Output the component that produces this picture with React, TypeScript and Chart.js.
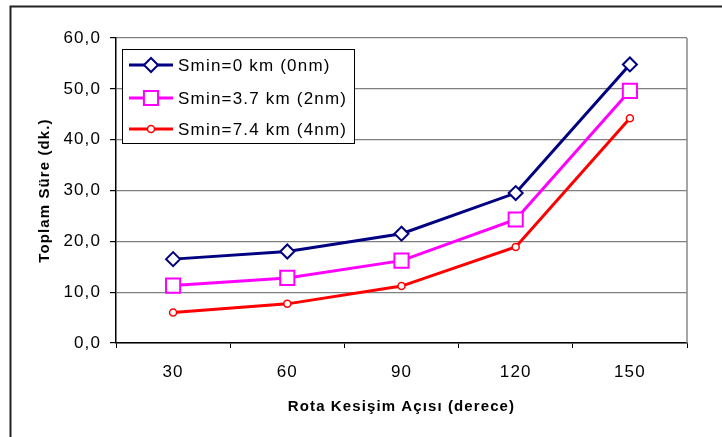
import React, { useEffect, useRef } from "react";
import { Chart, registerables } from "chart.js";

Chart.register(...registerables);

const categories = ["30", "60", "90", "120", "150"];
const seriesNames = ["Smin=0 km (0nm)", "Smin=3.7 km (2nm)", "Smin=7.4 km (4nm)"];
const smin0 = [16.5, 18.0, 21.5, 29.5, 54.8];
const smin37 = [11.3, 12.8, 16.2, 24.3, 49.6];
const smin74 = [6.0, 7.7, 11.2, 18.9, 44.2];
const yTicks = [0, 10, 20, 30, 40, 50, 60];
const xTitle = "Rota Kesişim Açısı (derece)";
const yTitle = "Toplam Süre (dk.)";

const FONT = "'Liberation Sans', Arial, sans-serif";
const SPACING = "1.1px";

const colors = ["#000080", "#FF00FF", "#FF0000"];
const markers = ["rectRot", "rect", "circle"];
const radii = [7, 10, 3.5];
const borderW = [2, 2, 1.5];

function drawMarker(ctx: CanvasRenderingContext2D, type: string, x: number, y: number, r: number) {
  ctx.beginPath();
  if (type === "rectRot") {
    ctx.moveTo(x - r, y);
    ctx.lineTo(x, y - r);
    ctx.lineTo(x + r, y);
    ctx.lineTo(x, y + r);
    ctx.closePath();
  } else if (type === "rect") {
    const s = Math.SQRT1_2 * r;
    ctx.rect(x - s, y - s, 2 * s, 2 * s);
  } else {
    ctx.arc(x, y, r, 0, Math.PI * 2);
  }
  ctx.fill();
  ctx.stroke();
}

function setSpacing(chart: any) {
  try {
    (chart.ctx as any).letterSpacing = SPACING;
  } catch (e) {}
}

const framePlugin = {
  id: "frame",
  beforeInit(chart: any) { setSpacing(chart); },
  beforeUpdate(chart: any) { setSpacing(chart); },
  beforeLayout(chart: any) { setSpacing(chart); },
  beforeDraw(chart: any) {
    const ctx = chart.ctx as CanvasRenderingContext2D;
    setSpacing(chart);
    ctx.save();
    ctx.fillStyle = "#fff";
    ctx.fillRect(0, 0, chart.width, chart.height);
    ctx.strokeStyle = "#222";
    ctx.lineWidth = 2;
    ctx.beginPath();
    ctx.moveTo(10.5, chart.height + 5);
    ctx.lineTo(10.5, 6.5);
    ctx.lineTo(chart.width + 5, 6.5);
    ctx.stroke();
    ctx.restore();
  },
  beforeDatasetsDraw(chart: any) {
    const ctx = chart.ctx as CanvasRenderingContext2D;
    const a = chart.chartArea;
    ctx.save();
    ctx.strokeStyle = "#888";
    ctx.lineWidth = 1.5;
    ctx.beginPath();
    ctx.moveTo(a.right, a.top);
    ctx.lineTo(a.right, a.bottom);
    ctx.stroke();
    ctx.restore();
  },
  afterDraw(chart: any) {
    const ctx = chart.ctx as CanvasRenderingContext2D;
    ctx.save();
    (ctx as any).letterSpacing = "1.2px";
    const bx = 122.5, by = 49.5, bw = 232, bh = 94;
    ctx.fillStyle = "#fff";
    ctx.fillRect(bx, by, bw, bh);
    ctx.strokeStyle = "#000";
    ctx.lineWidth = 1;
    ctx.strokeRect(bx, by, bw, bh);
    const rows = [65, 98, 129];
    chart.data.datasets.forEach((ds: any, i: number) => {
      const y = rows[i];
      ctx.strokeStyle = colors[i];
      ctx.lineWidth = 3;
      ctx.beginPath();
      ctx.moveTo(129, y);
      ctx.lineTo(173, y);
      ctx.stroke();
      ctx.fillStyle = "#fff";
      ctx.lineWidth = borderW[i];
      drawMarker(ctx, markers[i], 151, y, radii[i]);
      ctx.fillStyle = "#000";
      ctx.font = `17px ${FONT}`;
      ctx.textBaseline = "middle";
      ctx.textAlign = "left";
      ctx.fillText(ds.label, 178, y + 1);
    });
    ctx.restore();
  },
};

export default function App() {
  const ref = useRef<HTMLCanvasElement | null>(null);
  useEffect(() => {
    document.body.style.margin = "0";
    document.body.style.overflow = "hidden";
    const data = [smin0, smin37, smin74];
    const chart = new Chart(ref.current as HTMLCanvasElement, {
      type: "line",
      data: {
        labels: categories,
        datasets: data.map((d, i) => ({
          label: seriesNames[i],
          data: d,
          borderColor: colors[i],
          backgroundColor: "#fff",
          borderWidth: 3,
          tension: 0,
          pointStyle: markers[i] as any,
          pointRadius: radii[i],
          pointBorderWidth: borderW[i],
          pointBorderColor: colors[i],
          pointBackgroundColor: "#fff",
        })),
      },
      options: {
        responsive: false,
        animation: false,
        layout: { padding: { top: 38, right: 35, left: 0, bottom: 0 } },
        plugins: { legend: { display: false }, tooltip: { enabled: false } },
        scales: {
          x: {
            type: "category",
            offset: true,
            afterFit: (s: any) => { s.height = 94; },
            grid: {
              drawOnChartArea: false,
              offset: true,
              color: "#000",
              tickColor: "#000",
              tickLength: 5,
            },
            border: { color: "#000", width: 1.5 },
            ticks: { color: "#000", font: { family: FONT, size: 17 }, padding: 14 },
            title: {
              display: true,
              text: xTitle,
              color: "#000",
              font: { family: FONT, size: 15, weight: "bold", lineHeight: 1.2 },
              padding: { top: 0, bottom: 21 },
            },
          },
          y: {
            min: 0,
            max: 60,
            afterFit: (s: any) => { s.width = 116; },
            afterBuildTicks: (s: any) => { s.ticks = yTicks.map((v) => ({ value: v })); },
            grid: { color: "#808080", tickColor: "#000", tickLength: 6, lineWidth: 1.2 },
            border: { color: "#000", width: 1.5 },
            ticks: {
              color: "#000",
              font: { family: FONT, size: 17 },
              padding: 9,
              callback: (v: any) => Number(v).toFixed(1).replace(".", ","),
            },
            title: {
              display: true,
              text: yTitle,
              color: "#000",
              font: { family: FONT, size: 15, weight: "bold", lineHeight: 1.2 },
              padding: { top: 36, bottom: 0 },
            },
          },
        },
      },
      plugins: [framePlugin],
    });
    return () => chart.destroy();
  }, []);
  return (
    <div style={{ position: "fixed", left: 0, top: 0, width: 722, height: 437, background: "#fff" }}>
      <canvas ref={ref} width={722} height={437} style={{ display: "block", width: 722, height: 437 }} />
    </div>
  );
}
